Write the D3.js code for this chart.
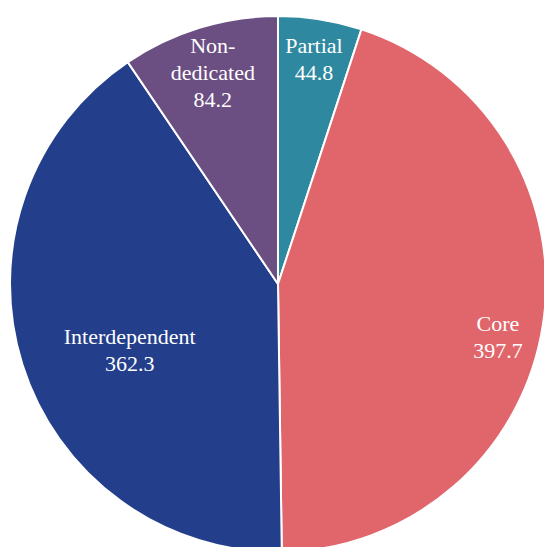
<!DOCTYPE html>
<head>
  <meta charset="utf-8">
  <script src="https://d3js.org/d3.v7.min.js"></script>
  <style>
    body { margin: 0; padding: 0; background: #fff; }
    text { font-family: 'Liberation Serif', 'Times New Roman', 'DejaVu Serif', serif; }
  </style>
</head>
<body>
  <script>
    // slices, clockwise from 12 o'clock
    var categories = ['Partial', 'Core', 'Interdependent', 'Non-dedicated'],
      values = [44.8, 397.7, 362.3, 84.2],
      labelLines = [['Partial'], ['Core'], ['Interdependent'], ['Non-', 'dedicated']],
      colors = ['#2e89a0', '#e0666b', '#233e8b', '#6b4e82'];

    var width = 544,
      height = 547,
      cx = 278,
      cy = 284,
      radius = 268;

    var svg = d3.select('body').append('svg')
      .attr('width', width)
      .attr('height', height);

    var g = svg.append('g')
      .attr('transform', 'translate(' + cx + ',' + cy + ')');

    var data = categories.map(function (c, i) {
      return { name: c, value: values[i], lines: labelLines[i], color: colors[i] };
    });

    var pie = d3.pie().sort(null).value(function (d) { return d.value; });
    var arc = d3.arc().innerRadius(0).outerRadius(radius);

    var arcs = pie(data);

    g.selectAll('path')
      .data(arcs)
      .enter().append('path')
      .attr('d', arc)
      .attr('fill', function (d) { return d.data.color; })
      .attr('stroke', '#fff')
      .attr('stroke-width', 2);

    // label placement tweaks (share of radius, extra drop), roughly what excel did
    function labelPos(d) {
      var n = d.data.name;
      if (n === 'Interdependent') return [0.58, 20];
      if (n === 'Core') return [0.83, 20];
      if (n === 'Partial') return [0.85, 0];
      return [0.83, 2];
    }

    var lineH = 27;
    arcs.forEach(function (d) {
      var p = labelPos(d);
      var r = radius * p[0];
      var c = d3.arc().innerRadius(r).outerRadius(r).centroid(d);
      var lines = d.data.lines.concat([d3.format('.1f')(d.data.value)]);
      var t = g.append('text')
        .attr('x', c[0])
        .attr('y', c[1] + p[1] - (lines.length - 1) * lineH / 2 + 7)
        .attr('text-anchor', 'middle')
        .attr('fill', '#fff')
        .attr('font-size', '22px');
      lines.forEach(function (l, i) {
        t.append('tspan')
          .attr('x', c[0])
          .attr('dy', i === 0 ? 0 : lineH)
          .text(l);
      });
    });
  </script>
</body>
